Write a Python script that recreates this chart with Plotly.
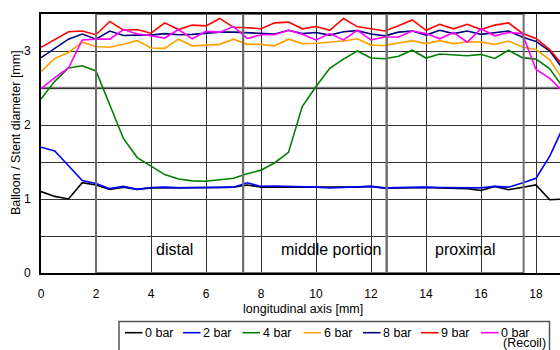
import plotly.graph_objects as go

x_mm = [i * 0.5 for i in range(39)]

bar0 = [1.10, 1.035, 1.00, 1.22, 1.19, 1.13, 1.16, 1.13, 1.15, 1.15, 1.15, 1.145, 1.15, 1.155, 1.16, 1.19,
        1.16, 1.16, 1.16, 1.16, 1.15, 1.15, 1.155, 1.16, 1.17, 1.145, 1.15, 1.155, 1.155, 1.15, 1.15, 1.14,
        1.115, 1.17, 1.125, 1.16, 1.19, 0.99, 1.00]
bar2 = [1.70, 1.65, 1.45, 1.25, 1.21, 1.14, 1.17, 1.13, 1.155, 1.16, 1.15, 1.15, 1.15, 1.16, 1.16, 1.22,
        1.17, 1.175, 1.17, 1.175, 1.16, 1.15, 1.16, 1.16, 1.17, 1.15, 1.155, 1.16, 1.16, 1.155, 1.155, 1.15,
        1.15, 1.17, 1.16, 1.215, 1.28, 1.58, 1.98]
bar4 = [2.35, 2.59, 2.77, 2.80, 2.73, 2.27, 1.815, 1.56, 1.45, 1.33, 1.27, 1.245, 1.24, 1.26, 1.28, 1.34,
        1.39, 1.49, 1.63, 2.25, 2.52, 2.765, 2.89, 3.00, 2.905, 2.895, 2.93, 3.01, 2.905, 2.96, 2.95, 2.935,
        2.955, 2.90, 3.01, 2.91, 2.89, 2.76, 2.50]
bar6 = [2.72, 2.90, 2.98, 3.12, 3.06, 3.05, 3.09, 3.14, 3.04, 3.035, 3.16, 3.07, 3.08, 3.09, 3.16, 3.09,
        3.09, 3.07, 3.16, 3.10, 3.105, 3.12, 3.135, 3.165, 3.08, 3.075, 3.11, 3.14, 3.10, 3.14, 3.10, 3.125,
        3.12, 3.09, 3.135, 3.055, 3.02, 2.88, 2.60]
bar8 = [2.91, 3.035, 3.16, 3.23, 3.16, 3.27, 3.21, 3.215, 3.215, 3.235, 3.22, 3.225, 3.24, 3.255, 3.255, 3.245,
        3.23, 3.23, 3.28, 3.235, 3.25, 3.215, 3.26, 3.275, 3.23, 3.205, 3.255, 3.27, 3.215, 3.28, 3.235, 3.27,
        3.225, 3.245, 3.27, 3.19, 3.13, 3.00, 2.75]
bar9 = [3.05, 3.16, 3.26, 3.27, 3.22, 3.40, 3.28, 3.29, 3.24, 3.38, 3.29, 3.35, 3.34, 3.44, 3.32, 3.315,
        3.30, 3.38, 3.39, 3.30, 3.33, 3.28, 3.44, 3.33, 3.305, 3.27, 3.34, 3.42, 3.28, 3.36, 3.30, 3.36,
        3.29, 3.35, 3.38, 3.24, 3.17, 3.02, 2.80]
bar0_recoil = [2.49, 2.64, 2.77, 3.15, 3.16, 3.16, 3.29, 3.23, 3.205, 3.175, 3.29, 3.165, 3.265, 3.255, 3.33, 3.17,
               3.22, 3.22, 3.28, 3.225, 3.15, 3.235, 3.15, 3.28, 3.15, 3.19, 3.19, 3.27, 3.235, 3.165, 3.25, 3.12,
               3.30, 3.205, 3.25, 3.235, 2.75, 2.63, 2.45]

series_names = ["0 bar", "2 bar", "4 bar", "6 bar", "8 bar", "9 bar", "0 bar (Recoil)"]
legend_labels = ["0 bar", "2 bar", "4 bar", "6 bar", "8 bar", "9 bar", "0 bar"]
series_values = [bar0, bar2, bar4, bar6, bar8, bar9, bar0_recoil]
series_colors = ["#000000", "#0000ff", "#008000", "#ffa000", "#000080", "#ff0000", "#ff00ff"]

regions = ["distal", "middle portion", "proximal"]
region_bounds = [(2.0, 7.35), (7.35, 12.57), (12.57, 17.55)]
region_label_x = [4.85, 10.56, 15.41]

x_ticks = list(range(0, 20, 2))
y_ticks = [0, 1, 2, 3]

FONT = "Liberation Sans, Arial, sans-serif"
W, H = 560, 350
ML, MR, MT, MB = 41, 0, 14, 77
PW = W - ML - MR
PH = H - MT - MB


def px(xp):
    return (xp - ML) / PW


def py(yp):
    return (H - MB - yp) / PH


fig = go.Figure()
for name, vals, col in zip(series_names, series_values, series_colors):
    fig.add_trace(go.Scatter(x=x_mm, y=vals, mode="lines", name=name,
                             line=dict(color=col, width=1.6), showlegend=False))

shapes = []
shapes.append(dict(type="line", xref="paper", yref="y", x0=0, x1=1, y0=2.5, y1=2.5,
                   line=dict(color="#808080", width=2.5), layer="below"))
for (a, b) in region_bounds:
    shapes.append(dict(type="rect", xref="x", yref="y", x0=a, x1=b, y0=0, y1=3.5,
                       line=dict(color="#6e6e6e", width=2), fillcolor="rgba(0,0,0,0)", layer="above"))

annotations = []
for name, xc in zip(regions, region_label_x):
    annotations.append(dict(x=xc, y=0.315, xref="x", yref="y", text=name, showarrow=False,
                            font=dict(family=FONT, size=16, color="#000"), xanchor="center", yanchor="middle"))

annotations.append(dict(x=px(303), y=py(309), xref="paper", yref="paper", text="longitudinal axis [mm]",
                        showarrow=False, font=dict(family=FONT, size=12.5, color="#000"),
                        xanchor="center", yanchor="middle"))
annotations.append(dict(x=px(16), y=py(133), xref="paper", yref="paper", text="Balloon / Stent diameter [mm]",
                        showarrow=False, textangle=-90, font=dict(family=FONT, size=12.5, color="#000"),
                        xanchor="center", yanchor="middle"))

# legend box
shapes.append(dict(type="rect", xref="paper", yref="paper", x0=px(119), x1=px(549.5), y0=py(362), y1=py(321.5),
                   line=dict(color="#555555", width=1.5), fillcolor="white", layer="above"))
leg_text_x = [144, 202, 261.5, 322.5, 382, 440, 500]
leg_y = 332.7
for name, col, tx in zip(legend_labels, series_colors, leg_text_x):
    shapes.append(dict(type="line", xref="paper", yref="paper", x0=px(tx - 19), x1=px(tx - 1.5),
                       y0=py(leg_y), y1=py(leg_y), line=dict(color=col, width=1.6), layer="above"))
    annotations.append(dict(x=px(tx), y=py(leg_y), xref="paper", yref="paper", text=name,
                            showarrow=False, align="left", font=dict(family=FONT, size=12.5, color="#000"),
                            xanchor="left", yanchor="middle", borderpad=0))
annotations.append(dict(x=px(502), y=py(342.5), xref="paper", yref="paper", text="(Recoil)",
                        showarrow=False, align="left", font=dict(family=FONT, size=12.5, color="#000"),
                        xanchor="left", yanchor="middle", borderpad=0))

fig.update_layout(
    width=W, height=H,
    margin=dict(l=ML, r=MR, t=MT, b=MB, autoexpand=False),
    paper_bgcolor="white", plot_bgcolor="white",
    font=dict(family=FONT, size=12, color="#000"),
    shapes=shapes, annotations=annotations,
    showlegend=False,
)
fig.update_xaxes(range=[0, PW / 27.5], tickvals=x_ticks, ticktext=[str(v) for v in x_ticks],
                 showgrid=True, gridcolor="#333333", gridwidth=1, automargin=False,
                 showline=True, linecolor="#000", linewidth=2, mirror=True,
                 ticks="", ticklabelstandoff=9, zeroline=False,
                 tickfont=dict(family=FONT, size=12, color="#000"))
fig.update_yaxes(range=[0, 3.5], tickvals=y_ticks, ticktext=[str(v) for v in y_ticks],
                 showgrid=True, gridcolor="#333333", gridwidth=1, automargin=False,
                 minor=dict(dtick=0.5, tick0=0, showgrid=True, gridcolor="#333333", gridwidth=1),
                 showline=True, linecolor="#000", linewidth=2,
                 ticks="", ticklabelstandoff=6, zeroline=False,
                 tickfont=dict(family=FONT, size=12, color="#000"))

fig.write_html("out.html", config={"displayModeBar": False},
               post_script="document.body.style.margin='0';document.body.style.overflow='hidden';")
